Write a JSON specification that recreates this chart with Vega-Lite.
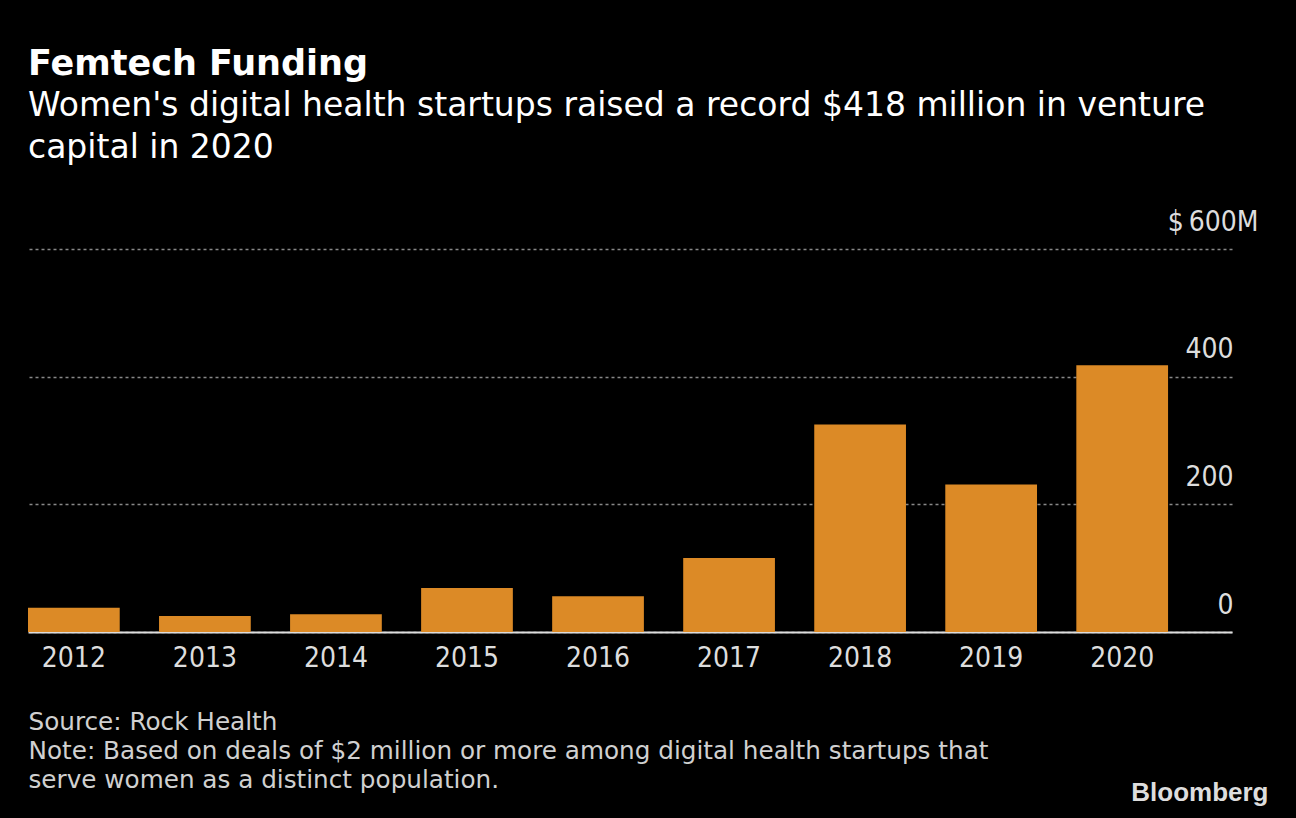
{
  "$schema": "https://vega.github.io/schema/vega-lite/v6.json",
  "autosize": {"type": "none"},
  "width": 1204,
  "height": 383,
  "padding": {"left": 28, "top": 249, "right": 64, "bottom": 186},
  "background": "#000000",
  "config": {
    "view": {"stroke": null},
    "font": "DejaVu Sans Condensed"
  },
  "title": {
    "text": "Femtech Funding",
    "subtitle": ["Women's digital health startups raised a record $418 million in venture", "capital in 2020"],
    "anchor": "start",
    "frame": "group",
    "orient": "top",
    "font": "DejaVu Sans",
    "fontSize": 35,
    "fontWeight": "bold",
    "color": "#ffffff",
    "subtitleFont": "DejaVu Sans",
    "subtitleFontSize": 33,
    "subtitleColor": "#ffffff",
    "subtitleLineHeight": 42,
    "subtitlePadding": 8,
    "offset": 43
  },
  "data": {
    "values": [
      {"year": "2012", "funding": 38},
      {"year": "2013", "funding": 25},
      {"year": "2014", "funding": 28},
      {"year": "2015", "funding": 69},
      {"year": "2016", "funding": 56},
      {"year": "2017", "funding": 116},
      {"year": "2018", "funding": 325},
      {"year": "2019", "funding": 231},
      {"year": "2020", "funding": 418}
    ]
  },
  "mark": {"type": "bar", "color": "#dc8a26"},
  "encoding": {
    "x": {
      "field": "year",
      "type": "nominal",
      "sort": null,
      "scale": {"paddingInner": 0.3, "paddingOuter": 0.244, "align": 0},
      "axis": {
        "orient": "bottom",
        "labelAngle": 0,
        "labelFont": "DejaVu Sans Condensed",
        "labelFontSize": 28,
        "labelColor": "#dddddd",
        "labelPadding": 12,
        "ticks": false,
        "tickSize": 0,
        "domain": true,
        "domainColor": "#dddddd",
        "domainWidth": 2,
        "grid": false,
        "title": ["Source: Rock Health", "Note: Based on deals of $2 million or more among digital health startups that", "serve women as a distinct population."],
        "titleFont": "DejaVu Sans",
        "titleFontSize": 24.7,
        "titleFontWeight": "normal",
        "titleColor": "#d0d0d0",
        "titleAlign": "left",
        "titleAnchor": "start",
        "titleBaseline": "alphabetic",
        "titleLineHeight": 29,
        "titleX": 0,
        "titleY": 97
      }
    },
    "y": {
      "field": "funding",
      "type": "quantitative",
      "scale": {"domain": [0, 600], "nice": false},
      "axis": {
        "orient": "right",
        "values": [0, 200, 400, 600],
        "labelExpr": "datum.value == 600 ? '$\u2009600M' : datum.label",
        "labelFont": "DejaVu Sans Condensed",
        "labelFontSize": 28,
        "labelColor": "#dddddd",
        "labelAlign": "right",
        "labelBaseline": "alphabetic",
        "labelOffset": -19,
        "labelPadding": {"condition": {"test": "datum.value == 600", "value": 26}, "value": 1},
        "ticks": false,
        "tickSize": 0,
        "domain": false,
        "grid": true,
        "gridColor": "#888888",
        "gridDash": [3, 3],
        "gridWidth": 1.5,
        "title": "Bloomberg",
        "titleFont": "Liberation Sans",
        "titleFontSize": 26,
        "titleFontWeight": "bold",
        "titleColor": "#dddddd",
        "titleAngle": 0,
        "titleAlign": "right",
        "titleBaseline": "alphabetic",
        "titleX": 36,
        "titleY": 551
      }
    }
  }
}
